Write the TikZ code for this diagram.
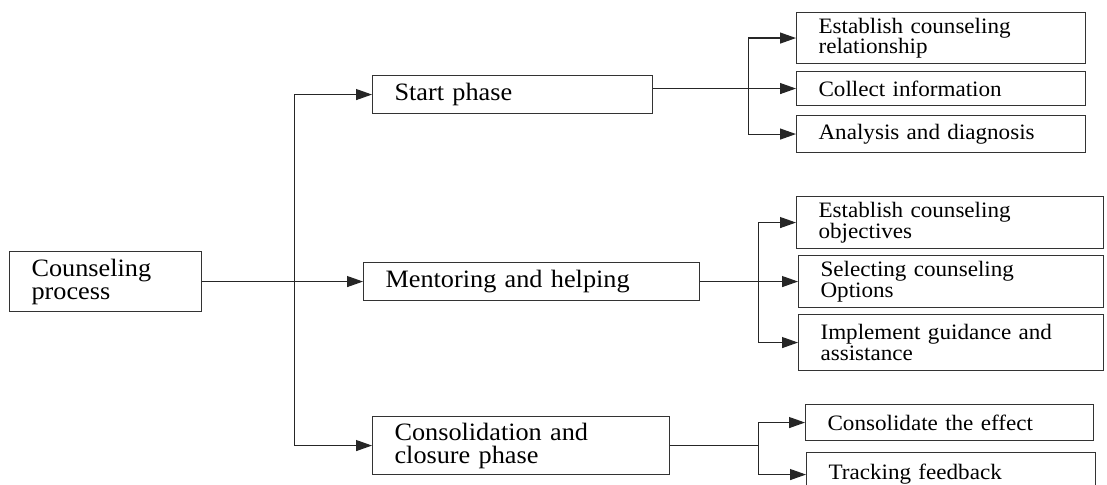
\documentclass[tikz,border=0pt]{standalone}
\usepackage{fontspec}
\setmainfont{Liberation Serif}[FakeStretch=1.05]
\usetikzlibrary{arrows.meta}
\tikzset{
  bx/.style={draw=black!80, line width=1.1pt, anchor=north west, inner xsep=22pt, inner ysep=0pt,
    align=left, text=black},
  mainf/.style={font=\fontsize{25}{23}\selectfont},
  leaff/.style={font=\fontsize{22}{20.5}\selectfont},
  ln/.style={draw=black!85, line width=1.1pt},
  arr/.style={ln, -{Triangle[length=16pt,width=11pt]}}
}
\begin{document}
\begin{tikzpicture}[x=1pt,y=-1pt]
\clip (0,0) rectangle (1107,484);
\fill[white] (0,0) rectangle (1107,484);
% level 0
\node[bx, mainf, text width=148pt, minimum width=192pt, minimum height=60pt] (cp) at (9,251) {Counseling\\process};
% level 1
\node[bx, mainf, text width=236pt, minimum width=280pt, minimum height=38pt] (start) at (372,75) {Start phase};
\node[bx, mainf, text width=292pt, minimum width=336pt, minimum height=38pt] (ment) at (363,262) {Mentoring and helping};
\node[bx, mainf, text width=253pt, minimum width=297pt, minimum height=58pt] (cons) at (372,416) {Consolidation and\\closure phase};
% leaves of start
\node[bx, leaff, text width=245pt, minimum width=289pt, minimum height=51pt] (l1) at (796,12) {Establish counseling\\relationship};
\node[bx, leaff, text width=245pt, minimum width=289pt, minimum height=34pt] (l2) at (796,71) {Collect information};
\node[bx, leaff, text width=245pt, minimum width=289pt, minimum height=37pt] (l3) at (796,115) {Analysis and diagnosis};
% leaves of mentoring
\node[bx, leaff, text width=263pt, minimum width=307pt, minimum height=52pt] (m1) at (796,196) {Establish counseling\\objectives};
\node[bx, leaff, text width=261pt, minimum width=305pt, minimum height=52pt] (m2) at (798,255) {Selecting counseling\\Options};
\node[bx, leaff, text width=261pt, minimum width=305pt, minimum height=56pt] (m3) at (798,314) {Implement guidance and\\assistance};
% leaves of consolidation
\node[bx, leaff, text width=244pt, minimum width=288pt, minimum height=36pt] (c1) at (805,404) {Consolidate the effect};
\node[bx, leaff, text width=245pt, minimum width=289pt, minimum height=44pt] (c2) at (806,452) {Tracking feedback};
% bus coordinates
\path (cp.east) ++(92,0) coordinate (b0);
\path (start.east |- l2.west) ++(95,0) coordinate (b1);
\path (ment.east) ++(58,0) coordinate (b2);
\path (cons.east) ++(88,0) coordinate (b3);
% connectors level 0 -> 1
\draw[arr] (cp.east) -- (ment.west);
\draw[arr] (b0) |- (start.west);
\draw[arr] (b0) |- (cons.west);
% start -> leaves
\draw[arr] (start.east |- l2.west) -- (l2.west);
\draw[arr] (b1) |- (l1.west);
\draw[arr] (b1) |- (l3.west);
% mentoring -> leaves
\draw[arr] (ment.east) -- (m2.west);
\draw[arr] (b2) |- (m1.west);
\draw[arr] (b2) |- (m3.west);
% consolidation -> leaves
\draw[ln] (cons.east) -- (b3);
\draw[arr] (b3) |- (c1.west);
\draw[arr] (b3) |- (c2.west);
\end{tikzpicture}
\end{document}
